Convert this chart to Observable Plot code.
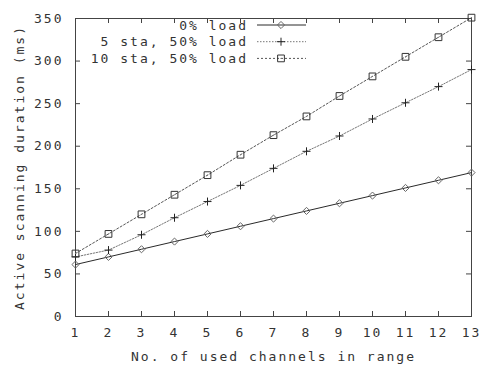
<!DOCTYPE html>
<html>
<head>
<meta charset="utf-8">
<script src="https://cdn.jsdelivr.net/npm/d3@7"></script>
<script src="https://cdn.jsdelivr.net/npm/@observablehq/plot@0.6"></script>
<style>
html,body{margin:0;padding:0;background:#fff;}
</style>
</head>
<body>
<div id="chart"></div>
<script>
const channels = [1,2,3,4,5,6,7,8,9,10,11,12,13];
const load0 = [61,70,79,88,97,106,115,124,133,142,151,160,169];
const sta5 = [70,78,96,116,135,154,174,194,212,232,251,270,290];
const sta10 = [74,97,120,143,166,190,213,235,259,282,305,328,351];
const seriesNames = ["0% load", "5 sta, 50% load", "10 sta, 50% load"];
const xTicks = channels;
const yTicks = [0,50,100,150,200,250,300,350];

const seriesValues = [load0, sta5, sta10];
const data = seriesNames.flatMap((name, i) => channels.map((c, j) => ({series: name, x: c, y: seriesValues[i][j]})));
const styles = {
  "0% load": {stroke: "#2a2a2a", dash: null, symbol: "diamond2", mstroke: "#666", r: 3.2},
  "5 sta, 50% load": {stroke: "#777", dash: "1.5,1.5", symbol: "plus", mstroke: "#222", r: 2.7},
  "10 sta, 50% load": {stroke: "#555", dash: "2,2", symbol: "square2", mstroke: "#333", r: 4.3}
};

const W = 481, H = 366, mL = 75, mR = 10, mT = 18, mB = 50;
const iw = W - mL - mR, ih = H - mT - mB;
const font = {fontFamily: "'DejaVu Sans Mono', monospace", fontSize: "13px", letterSpacing: "2px"};

const marks = [];
seriesNames.forEach(name => {
  const s = styles[name];
  const d = data.filter(p => p.series === name);
  marks.push(Plot.line(d, {x: "x", y: "y", stroke: s.stroke, strokeWidth: 1, strokeDasharray: s.dash}));
});
seriesNames.forEach(name => {
  const s = styles[name];
  const d = data.filter(p => p.series === name);
  marks.push(Plot.dot(d, {x: "x", y: "y", symbol: () => s.symbol, stroke: s.mstroke, fill: "none", r: s.r, strokeWidth: 1}));
  if (name === "10 sta, 50% load") {
    marks.push(Plot.dot(d, {x: "x", y: "y", fill: "#777", r: 0.6}));
  }
});

const chart = Plot.plot({
  width: W, height: H,
  marginLeft: mL, marginRight: mR, marginTop: mT, marginBottom: mB,
  style: {...font, color: "#333", background: "#fff"},
  x: {domain: [1, 13]},
  y: {domain: [0, 350]},
  symbol: {type: "identity"},
  marks: [
    Plot.frame({stroke: "#444", strokeWidth: 1}),
    Plot.tickX(xTicks, {x: d => d, insetTop: ih - 5, stroke: "#444"}),
    Plot.tickX(xTicks, {x: d => d, insetBottom: ih - 5, stroke: "#444"}),
    Plot.tickY(yTicks, {y: d => d, insetRight: iw - 5, stroke: "#444"}),
    Plot.tickY(yTicks, {y: d => d, insetLeft: iw - 5, stroke: "#444"}),
    Plot.axisX(xTicks, {tickSize: 0, tickPadding: 11, label: "No. of used channels in range", labelAnchor: "center", labelArrow: "none", labelOffset: 44, fill: "#333", fontSize: 13}),
    Plot.axisY(yTicks, {tickSize: 0, tickPadding: 12, label: "Active scanning duration (ms)", labelAnchor: "center", labelArrow: "none", labelOffset: 61, fill: "#333", fontSize: 13}),
    ...marks
  ]
});

// Legend (top-left inside the plot)
const svg = d3.select(chart);
const lg = svg.append("g").attr("font-family", "'DejaVu Sans Mono', monospace").attr("font-size", 13).attr("letter-spacing", "2px");
seriesNames.forEach((name, i) => {
  const s = styles[name];
  const cy = 25 + i * 16.7;
  lg.append("text").attr("x", 248).attr("y", cy).attr("dy", "0.35em").attr("text-anchor", "end").attr("fill", "#333").text(name);
  lg.append("line").attr("x1", 257).attr("x2", 306).attr("y1", cy).attr("y2", cy)
    .attr("stroke", s.stroke).attr("stroke-dasharray", s.dash);
  const sym = {diamond2: d3.symbolDiamond2, plus: d3.symbolPlus, square2: d3.symbolSquare2}[s.symbol];
  lg.append("path").attr("transform", `translate(281,${cy})`)
    .attr("d", d3.symbol(sym, Math.PI * s.r * s.r)()).attr("fill", "none").attr("stroke", s.mstroke);
  if (s.symbol === "square2") lg.append("circle").attr("cx", 281).attr("cy", cy).attr("r", 0.6).attr("fill", "#777");
});

document.getElementById("chart").appendChild(chart);
</script>
</body>
</html>
